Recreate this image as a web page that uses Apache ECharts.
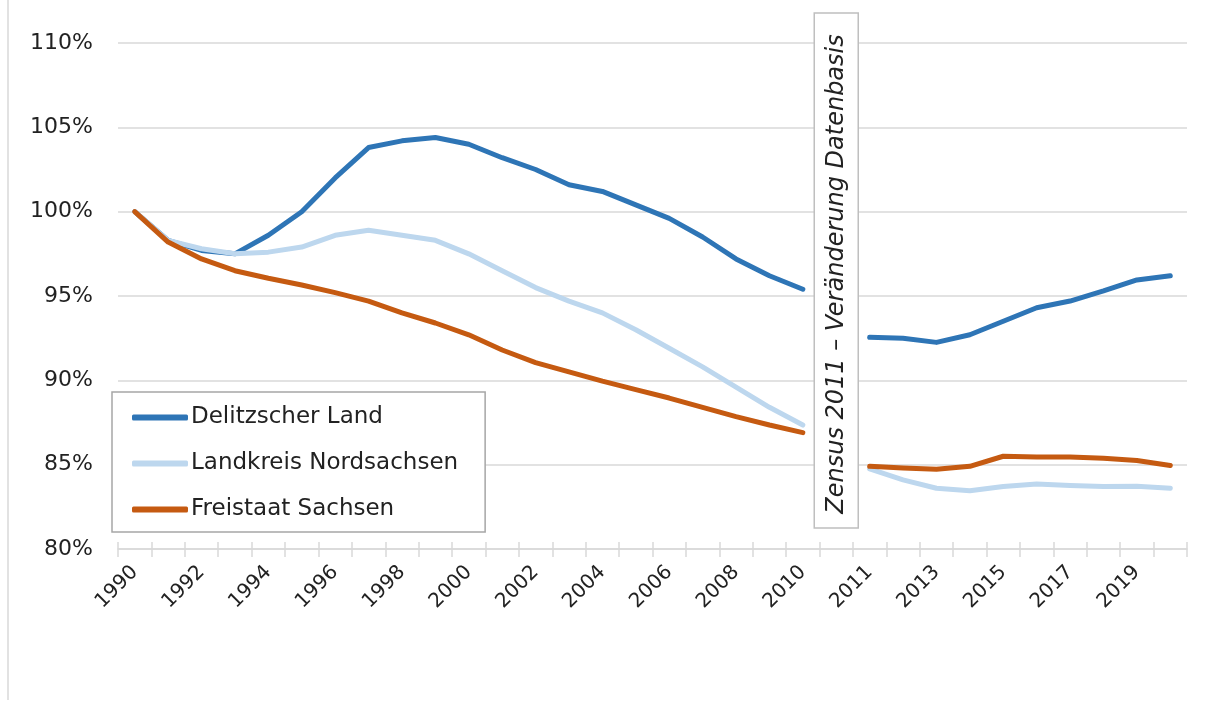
<!DOCTYPE html>
<html>
<head>
<meta charset="utf-8">
<script src="https://cdn.jsdelivr.net/npm/echarts@6/dist/echarts.min.js"></script>
<style>
    html, body { margin: 0; padding: 0; background: #fff; }
    #chart { width: 1214px; height: 702px; }
</style>
</head>
<body>
<div id="chart"></div>
<script>
// categories: 1990-2010, a gap for the Zensus 2011 break, then 2011-2020
const years = ['1990','1991','1992','1993','1994','1995','1996','1997','1998','1999','2000',
    '2001','2002','2003','2004','2005','2006','2007','2008','2009','2010',
    '',
    '2011','2012','2013','2014','2015','2016','2017','2018','2019','2020'];

const delitzscher = [100, 98.3, 97.7, 97.5, 98.6, 100.0, 102.0, 103.8, 104.2, 104.4, 104.0,
    103.2, 102.5, 101.6, 101.2, 100.4, 99.6, 98.5, 97.2, 96.2, 95.4,
    null,
    92.55, 92.5, 92.25, 92.7, 93.5, 94.3, 94.7, 95.3, 95.95, 96.2];

const nordsachsen = [100, 98.3, 97.8, 97.5, 97.6, 97.9, 98.6, 98.9, 98.6, 98.3, 97.5,
    96.5, 95.5, 94.7, 94.0, 93.0, 91.9, 90.8, 89.6, 88.4, 87.35,
    null,
    84.75, 84.1, 83.6, 83.45, 83.7, 83.86, 83.76, 83.7, 83.72, 83.6];

const sachsen = [100, 98.2, 97.2, 96.5, 96.05, 95.65, 95.2, 94.7, 94.0, 93.4, 92.7,
    91.8, 91.05, 90.5, 89.95, 89.45, 88.95, 88.4, 87.85, 87.35, 86.9,
    null,
    84.9, 84.8, 84.73, 84.9, 85.5, 85.45, 85.45, 85.38, 85.25, 84.95];

const FONT = 'DejaVu Sans';
const GRID_COLOR = '#d9d9d9';

let myChart = echarts.init(document.getElementById('chart'));

function lineSeries(name, color, data) {
    return {
        name: name,
        type: 'line',
        data: data,
        symbol: 'none',
        connectNulls: false,
        color: color,
        lineStyle: { width: 5, color: color, cap: 'round', join: 'round' }
    };
}

let opt = {
    animation: false,
    textStyle: { fontFamily: FONT },
    grid: { left: 118, right: 27, top: 43, bottom: 153 },
    legend: {
        orient: 'vertical',
        left: 112,
        top: 392,
        padding: [14, 27, 11, 20],
        itemGap: 23,
        itemWidth: 56,
        itemHeight: 6,
        icon: 'roundRect',
        borderColor: '#a6a6a6',
        borderWidth: 1.5,
        backgroundColor: '#fff',
        textStyle: { fontFamily: FONT, fontSize: 23, color: '#222', padding: [0, 0, 0, -2] },
        data: ['Delitzscher Land', 'Landkreis Nordsachsen', 'Freistaat Sachsen']
    },
    xAxis: [{
        type: 'category',
        data: years,
        boundaryGap: true,
        axisLine: { lineStyle: { color: GRID_COLOR, width: 1.5 } },
        axisTick: { show: true, interval: 0, length: 8, lineStyle: { color: GRID_COLOR, width: 1.5 } },
        axisLabel: {
            interval: 1,
            rotate: 45,
            margin: 20,
            fontFamily: FONT,
            fontSize: 20,
            color: '#222'
        },
        splitLine: { show: false }
    }, {
        // same axis again, only for the upper half of the crossing ticks
        type: 'category',
        data: years,
        position: 'bottom',
        boundaryGap: true,
        axisLine: { show: false },
        axisTick: { show: true, inside: true, interval: 0, length: 7, lineStyle: { color: GRID_COLOR, width: 1.5 } },
        axisLabel: { show: false },
        splitLine: { show: false }
    }],
    yAxis: {
        type: 'value',
        min: 80,
        max: 110,
        interval: 5,
        axisLine: { show: false },
        axisTick: { show: false },
        axisLabel: {
            formatter: '{value}%',
            margin: 25,
            fontFamily: FONT,
            fontSize: 22,
            color: '#222'
        },
        splitLine: { lineStyle: { color: GRID_COLOR, width: 1.5 } }
    },
    series: [
        lineSeries('Delitzscher Land', '#2e75b6', delitzscher),
        lineSeries('Landkreis Nordsachsen', '#bdd7ee', nordsachsen),
        lineSeries('Freistaat Sachsen', '#c55a11', sachsen)
    ]
};

myChart.setOption(opt);

// annotation box for the data base change, centred on the gap category
let gapX = myChart.convertToPixel({ xAxisIndex: 0 }, 21);
myChart.setOption({
    graphic: [
        {
            type: 'line',
            shape: { x1: 8, y1: 0, x2: 8, y2: 700 },
            style: { stroke: GRID_COLOR, lineWidth: 1.5 },
            z: 1
        },
        {
            type: 'rect',
            shape: { x: gapX - 22, y: 13, width: 44, height: 515 },
            style: { fill: '#fff', stroke: '#bfbfbf', lineWidth: 1.5 },
            z: 10
        },
        {
            type: 'text',
            x: gapX + 1,
            y: 274,
            rotation: Math.PI / 2,
            style: {
                text: 'Zensus 2011 – Veränderung Datenbasis',
                fontFamily: FONT,
                fontSize: 24,
                fontStyle: 'italic',
                fill: '#222',
                align: 'center',
                verticalAlign: 'middle'
            },
            z: 11
        }
    ]
});
</script>
</body>
</html>
